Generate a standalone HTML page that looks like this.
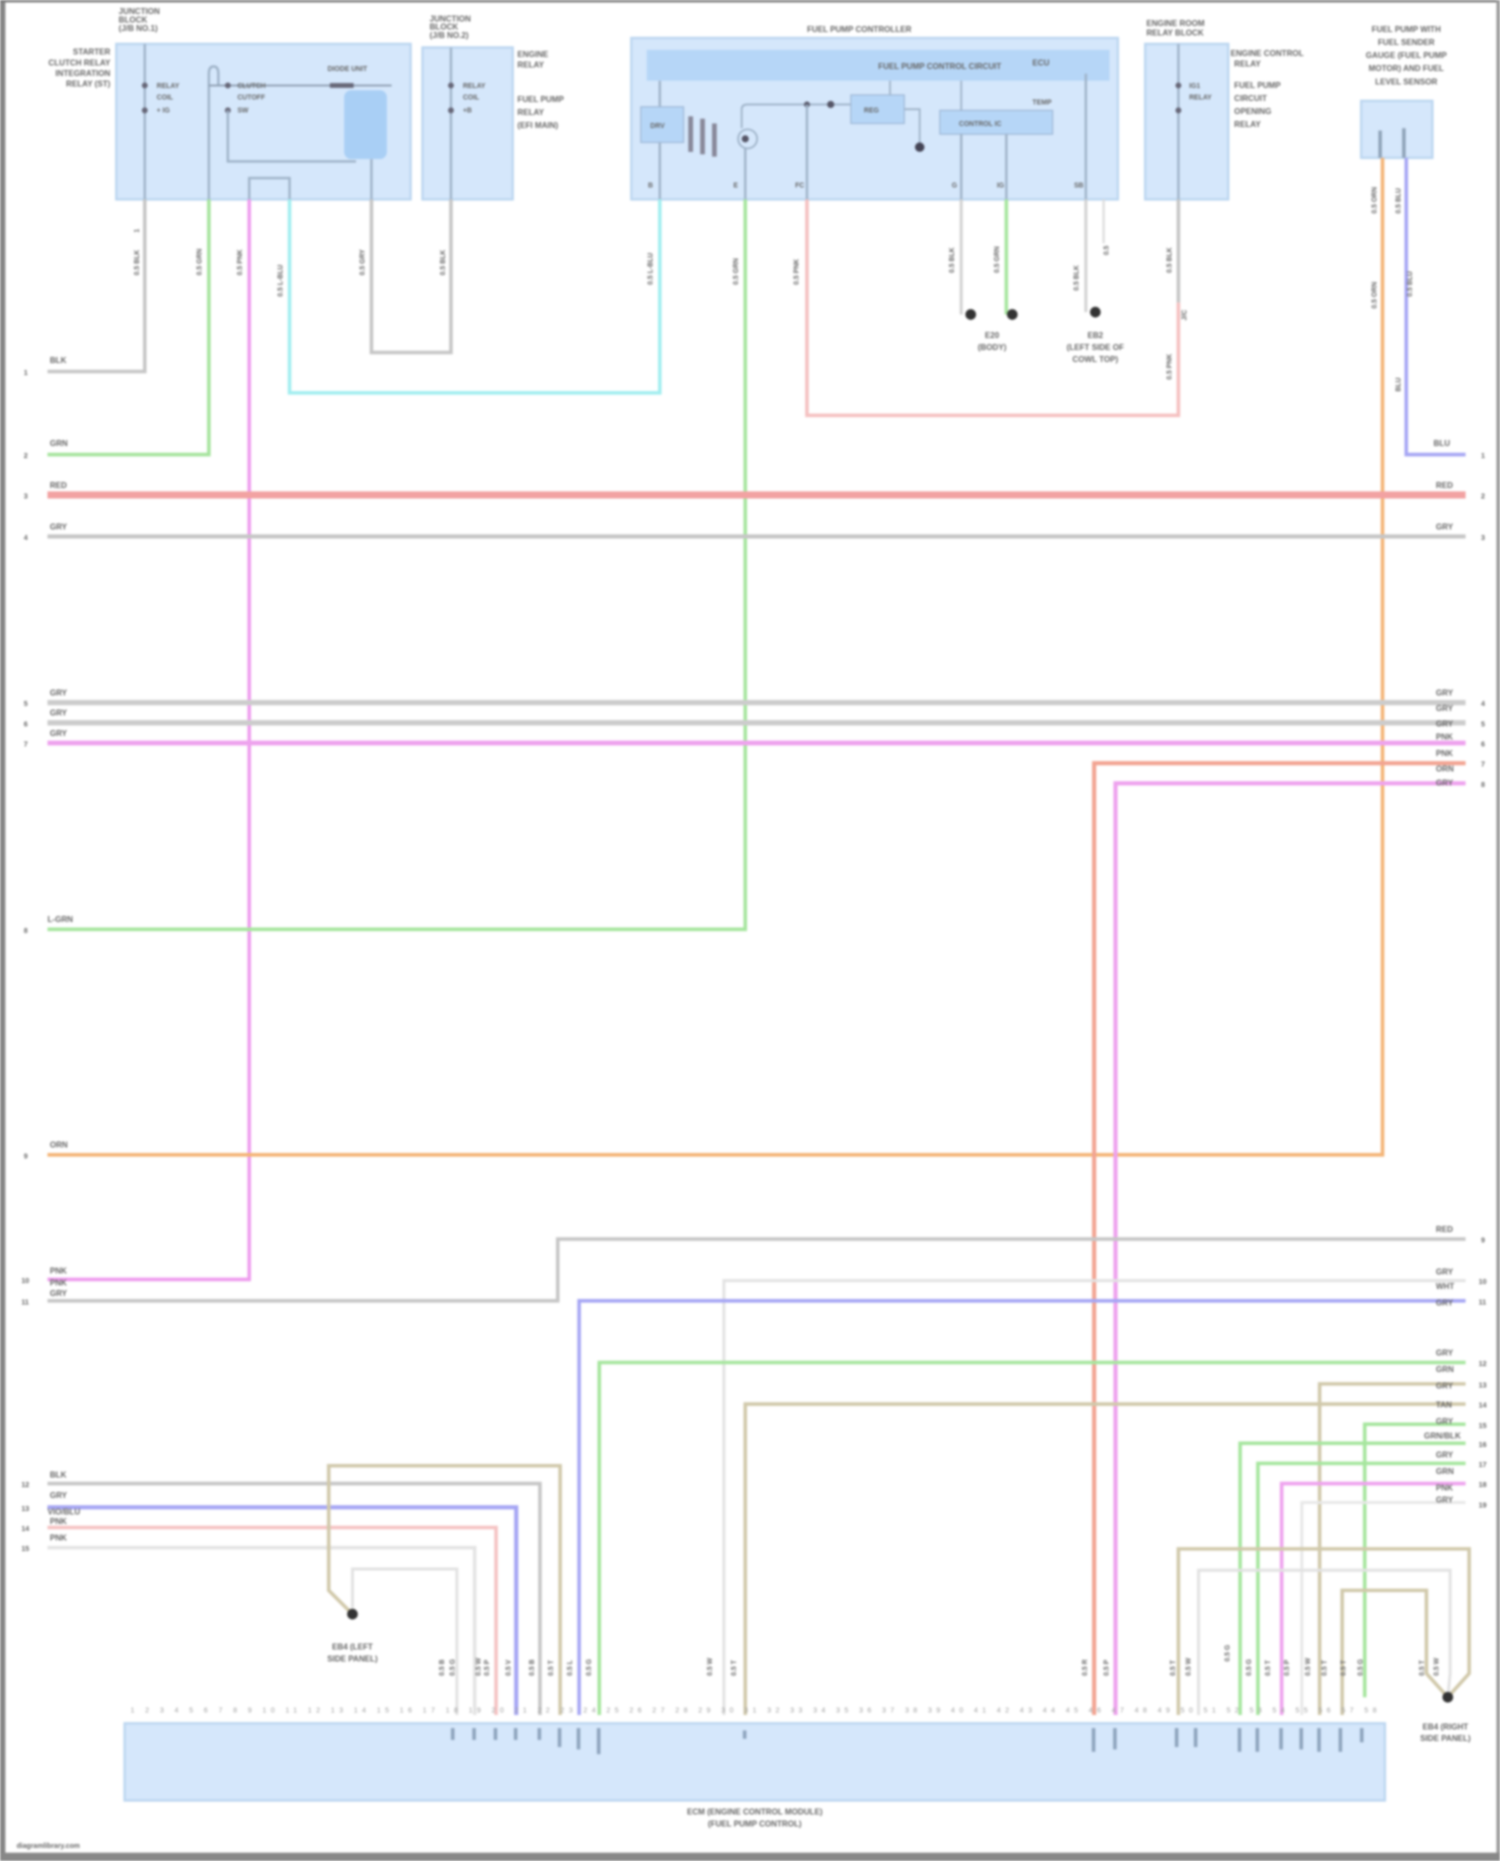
<!DOCTYPE html>
<html><head><meta charset="utf-8"><style>
html,body{margin:0;padding:0;background:#fff;}
svg{display:block;filter:blur(1.1px);}
text{font-family:"Liberation Sans",sans-serif;fill:#666;font-weight:bold;}
.s{font-size:6.8px;}
.t{font-size:5.8px;}
.p{font-size:6px;fill:#a0a0a0;font-weight:normal;}
.w{fill:none;stroke-linejoin:miter;}
</style></head><body>
<svg xmlns="http://www.w3.org/2000/svg" width="1500" height="1861" viewBox="0 0 1264 1568" preserveAspectRatio="none">
<rect x="0" y="0" width="1264" height="1568" fill="#fff"/>
<!-- frame -->
<rect x="0" y="0" width="4.5" height="1568" fill="#858585"/>
<rect x="0" y="0" width="1264" height="2" fill="#777"/>
<rect x="1261" y="0" width="3" height="1568" fill="#999"/>
<rect x="0" y="1561" width="1264" height="7" fill="#888"/>

<!-- ===== Module A ===== -->
<rect x="98" y="37" width="248" height="131" fill="#d5e7fb" stroke="#bcd6f0" stroke-width="2"/>
<line x1="122" y1="37" x2="122" y2="168" stroke="#9fb3c8" stroke-width="2"/>
<circle cx="122" cy="72" r="2.5" fill="#667"/><circle cx="122" cy="93" r="2.5" fill="#667"/>
<text class="t" x="132" y="74">RELAY</text><text class="t" x="132" y="84">COIL</text><text class="t" x="132" y="95">+ IG</text>
<path class="w" d="M176 168 V62 Q176 56 180 56 Q184 56 184 62 V72" stroke="#9fb3c8" stroke-width="2"/>
<line x1="176" y1="72" x2="330" y2="72" stroke="#8a9aad" stroke-width="1.5"/>
<rect x="278" y="70" width="20" height="4" fill="#667"/>
<circle cx="192" cy="72" r="2.5" fill="#667"/><circle cx="192" cy="93" r="2.5" fill="#667"/>
<text class="t" x="200" y="74">CLUTCH</text><text class="t" x="200" y="84">CUTOFF</text><text class="t" x="200" y="95">SW</text>
<text class="t" x="276" y="60">DIODE UNIT</text>
<path class="w" d="M192 93 V136 H300" stroke="#9fb3c8" stroke-width="2"/>
<rect x="290" y="76" width="36" height="58" rx="6" fill="#a9cff5"/>
<line x1="313" y1="134" x2="313" y2="168" stroke="#9fb3c8" stroke-width="2"/>
<path class="w" d="M210 168 V150 H244 V168" stroke="#9fb3c8" stroke-width="2"/>
<text class="s" x="100" y="12">JUNCTION</text><text class="s" x="100" y="19">BLOCK</text><text class="s" x="100" y="26">(J/B NO.1)</text>
<text class="s" x="93" y="46" text-anchor="end">STARTER</text><text class="s" x="93" y="55" text-anchor="end">CLUTCH RELAY</text><text class="s" x="93" y="64" text-anchor="end">INTEGRATION</text><text class="s" x="93" y="73" text-anchor="end">RELAY (ST)</text>

<!-- ===== Module B ===== -->
<rect x="356" y="40" width="76" height="128" fill="#d5e7fb" stroke="#bcd6f0" stroke-width="2"/>
<line x1="380" y1="40" x2="380" y2="168" stroke="#9fb3c8" stroke-width="2"/>
<circle cx="380" cy="72" r="2.5" fill="#667"/><circle cx="380" cy="93" r="2.5" fill="#667"/>
<text class="t" x="390" y="74">RELAY</text><text class="t" x="390" y="84">COIL</text><text class="t" x="390" y="95">+B</text>
<text class="s" x="362" y="18">JUNCTION</text><text class="s" x="362" y="25">BLOCK</text><text class="s" x="362" y="32">(J/B NO.2)</text>
<text class="s" x="436" y="48">ENGINE</text><text class="s" x="436" y="57">RELAY</text><text class="s" x="436" y="86">FUEL PUMP</text><text class="s" x="436" y="97">RELAY</text><text class="s" x="436" y="108">(EFI MAIN)</text>

<!-- ===== Module C ===== -->
<rect x="532" y="32" width="410" height="136" fill="#d5e7fb" stroke="#bcd6f0" stroke-width="2"/>
<rect x="545" y="42" width="390" height="26" fill="#b6d6f7"/>
<text class="s" x="740" y="58">FUEL PUMP CONTROL CIRCUIT</text>
<text class="s" x="870" y="55">ECU</text>
<line x1="556" y1="68" x2="556" y2="168" stroke="#9fb3c8" stroke-width="2"/>
<rect x="540" y="90" width="36" height="30" fill="#b6d6f7" stroke="#9fb8d6"/>
<text class="t" x="548" y="108">DRV</text>
<rect x="580" y="98" width="4" height="30" fill="#889"/><rect x="590" y="100" width="4" height="30" fill="#889"/><rect x="600" y="104" width="4" height="28" fill="#889"/>
<circle cx="630" cy="117" r="8" fill="none" stroke="#9fb3c8" stroke-width="1.5"/>
<circle cx="628" cy="117" r="3" fill="#556"/>
<line x1="628" y1="125" x2="628" y2="168" stroke="#9fb3c8" stroke-width="2"/>
<path class="w" d="M625 108 V92 Q625 88 630 88 H717" stroke="#9fb3c8" stroke-width="1.5"/>
<circle cx="680" cy="88" r="2.5" fill="#556"/><circle cx="700" cy="88" r="3" fill="#556"/>
<line x1="680" y1="88" x2="680" y2="168" stroke="#9fb3c8" stroke-width="2"/>
<rect x="717" y="80" width="45" height="24" fill="#b6d6f7" stroke="#9fb8d6"/>
<text class="t" x="728" y="95">REG</text>
<path class="w" d="M762 92 H775 V122" stroke="#9fb3c8" stroke-width="1.5"/>
<circle cx="775" cy="124" r="4" fill="#445"/>
<rect x="792" y="93" width="95" height="20" fill="#b6d6f7" stroke="#9fb8d6"/>
<text class="t" x="808" y="106">CONTROL IC</text>
<line x1="750" y1="68" x2="750" y2="80" stroke="#9fb3c8" stroke-width="1.5"/>
<line x1="810" y1="68" x2="810" y2="93" stroke="#9fb3c8" stroke-width="1.5"/>
<line x1="810" y1="113" x2="810" y2="168" stroke="#9fb3c8" stroke-width="2"/>
<line x1="848" y1="113" x2="848" y2="168" stroke="#9fb3c8" stroke-width="2"/>
<text class="t" x="870" y="88">TEMP</text>
<line x1="915" y1="62" x2="915" y2="168" stroke="#9fb3c8" stroke-width="2"/>
<text class="t" x="546" y="158">B</text><text class="t" x="618" y="158">E</text><text class="t" x="670" y="158">FC</text><text class="t" x="802" y="158">G</text><text class="t" x="840" y="158">IG</text><text class="t" x="905" y="158">SB</text>
<text class="s" x="680" y="27">FUEL PUMP CONTROLLER</text>

<!-- ===== Module D ===== -->
<rect x="965" y="37" width="70" height="131" fill="#d5e7fb" stroke="#bcd6f0" stroke-width="2"/>
<line x1="993" y1="37" x2="993" y2="168" stroke="#9fb3c8" stroke-width="2"/>
<circle cx="993" cy="72" r="2.5" fill="#667"/><circle cx="993" cy="93" r="2.5" fill="#667"/>
<text class="t" x="1002" y="74">IG1</text><text class="t" x="1002" y="84">RELAY</text>
<text class="s" x="966" y="22">ENGINE ROOM</text><text class="s" x="966" y="30">RELAY BLOCK</text>
<text class="s" x="1037" y="47">ENGINE CONTROL</text><text class="s" x="1040" y="56">RELAY</text><text class="s" x="1040" y="74">FUEL PUMP</text><text class="s" x="1040" y="85">CIRCUIT</text><text class="s" x="1040" y="96">OPENING</text><text class="s" x="1040" y="107">RELAY</text>

<!-- ===== Module E ===== -->
<rect x="1147" y="85" width="60" height="48" fill="#d5e7fb" stroke="#bcd6f0" stroke-width="2"/>
<line x1="1163" y1="110" x2="1163" y2="133" stroke="#8fa3b8" stroke-width="3"/>
<line x1="1183" y1="108" x2="1183" y2="133" stroke="#8fa3b8" stroke-width="3"/>
<text class="s" x="1185" y="27" text-anchor="middle">FUEL PUMP WITH</text><text class="s" x="1185" y="38" text-anchor="middle">FUEL SENDER</text><text class="s" x="1185" y="49" text-anchor="middle">GAUGE (FUEL PUMP</text><text class="s" x="1185" y="60" text-anchor="middle">MOTOR) AND FUEL</text><text class="s" x="1185" y="71" text-anchor="middle">LEVEL SENSOR</text>

<!-- ===== top wires ===== -->
<path class="w" d="M122 168 V313 H40" stroke="#c6c6c6" stroke-width="3"/>
<path class="w" d="M176 168 V383 H40" stroke="#a6e49e" stroke-width="3"/>
<path class="w" d="M210 168 V1078 H40" stroke="#ee9cee" stroke-width="3"/>
<path class="w" d="M244 168 V331 H556 V168" stroke="#a2eef0" stroke-width="3"/>
<path class="w" d="M313 168 V297 H380 V168" stroke="#c6c6c6" stroke-width="3"/>
<path class="w" d="M628 168 V783 H40" stroke="#a6e69e" stroke-width="3"/>
<path class="w" d="M993 168 V255" stroke="#c6c6c6" stroke-width="3"/>
<path class="w" d="M680 168 V350 H993 V255" stroke="#f5c0c0" stroke-width="3"/>
<path class="w" d="M810 168 V265" stroke="#d2d2d2" stroke-width="2.5"/>
<path class="w" d="M848 168 V265" stroke="#a6e69e" stroke-width="3"/>
<path class="w" d="M915 168 V263" stroke="#d2d2d2" stroke-width="2.5"/>
<path class="w" d="M930 168 V205" stroke="#dedede" stroke-width="2"/>
<circle cx="818" cy="265" r="4.5" fill="#333"/><circle cx="853" cy="265" r="4.5" fill="#333"/>
<circle cx="923" cy="263" r="4.5" fill="#333"/>
<text class="s" x="836" y="285" text-anchor="middle">E20</text><text class="s" x="836" y="295" text-anchor="middle">(BODY)</text>
<text class="s" x="923" y="285" text-anchor="middle">EB2</text><text class="s" x="923" y="295" text-anchor="middle">(LEFT SIDE OF</text><text class="s" x="923" y="305" text-anchor="middle">COWL TOP)</text>
<path class="w" d="M1165 133 V973 H40" stroke="#f4b476" stroke-width="3"/>
<path class="w" d="M1185 133 V383 H1235" stroke="#a6a6f4" stroke-width="3"/>

<!-- vertical wire labels under modules -->
<g class="t">
<text transform="translate(117,232) rotate(-90)">0.5 BLK</text>
<text transform="translate(117,196) rotate(-90)">1</text>
<text transform="translate(170,232) rotate(-90)">0.5 GRN</text>
<text transform="translate(204,232) rotate(-90)">0.5 PNK</text>
<text transform="translate(238,250) rotate(-90)">0.5 L-BLU</text>
<text transform="translate(307,232) rotate(-90)">0.5 GRY</text>
<text transform="translate(375,232) rotate(-90)">0.5 BLK</text>
<text transform="translate(550,240) rotate(-90)">0.5 L-BLU</text>
<text transform="translate(622,240) rotate(-90)">0.5 GRN</text>
<text transform="translate(673,240) rotate(-90)">0.5 PNK</text>
<text transform="translate(804,230) rotate(-90)">0.5 BLK</text>
<text transform="translate(842,230) rotate(-90)">0.5 GRN</text>
<text transform="translate(909,245) rotate(-90)">0.5 BLK</text>
<text transform="translate(934,215) rotate(-90)">0.5</text>
<text transform="translate(987,230) rotate(-90)">0.5 BLK</text>
<text transform="translate(987,320) rotate(-90)">0.5 PNK</text>
<text transform="translate(1000,270) rotate(-90)">J/C</text>
<text transform="translate(1160,180) rotate(-90)">0.5 ORN</text>
<text transform="translate(1180,180) rotate(-90)">0.5 BLU</text>
<text transform="translate(1160,260) rotate(-90)">0.5 ORN</text>
<text transform="translate(1190,250) rotate(-90)">0.5 BLU</text>
<text transform="translate(1180,330) rotate(-90)">BLU</text>
</g>

<!-- ===== long horizontals ===== -->
<line x1="40" y1="417" x2="1235" y2="417" stroke="#f2a2a2" stroke-width="6"/>
<line x1="40" y1="452" x2="1235" y2="452" stroke="#c6c6c6" stroke-width="3.5"/>
<line x1="40" y1="592" x2="1235" y2="592" stroke="#cccccc" stroke-width="4.5"/>
<line x1="40" y1="609" x2="1235" y2="609" stroke="#cccccc" stroke-width="4.5"/>
<line x1="40" y1="626" x2="1235" y2="626" stroke="#ee a2ee" stroke-width="4"/>
<line x1="40" y1="626" x2="1235" y2="626" stroke="#eea2ee" stroke-width="4"/>
<path class="w" d="M1235 643 H922 V1445" stroke="#f2a492" stroke-width="3.5"/>
<path class="w" d="M1235 660 H940 V1445" stroke="#eea2ee" stroke-width="3.5"/>

<path class="w" d="M1235 1044 H470 V1096 H40" stroke="#c6c6c6" stroke-width="3"/>
<path class="w" d="M1235 1079 H610 V1445" stroke="#e2e2e2" stroke-width="2.5"/>
<path class="w" d="M1235 1096 H488 V1445" stroke="#a6a6f4" stroke-width="3"/>
<path class="w" d="M1235 1148 H505 V1445" stroke="#a6e69e" stroke-width="3"/>
<path class="w" d="M1235 1166 H1112 V1445" stroke="#d1c9ab" stroke-width="3"/>
<path class="w" d="M1235 1183 H628 V1445" stroke="#d1c9ab" stroke-width="3"/>
<path class="w" d="M1235 1200 H1150 V1430" stroke="#a6e69e" stroke-width="3"/>
<path class="w" d="M1235 1216 H1045 V1445" stroke="#a6e69e" stroke-width="3"/>
<path class="w" d="M1235 1233 H1060 V1445" stroke="#a6e69e" stroke-width="3"/>
<path class="w" d="M1235 1250 H1080 V1445" stroke="#eea2ee" stroke-width="3"/>
<path class="w" d="M1235 1266 H1097 V1445" stroke="#e8e8e8" stroke-width="2.5"/>

<!-- bottom-left group -->
<path class="w" d="M40 1250 H455 V1445" stroke="#c6c6c6" stroke-width="3"/>
<path class="w" d="M40 1270 H435 V1445" stroke="#a6a6f4" stroke-width="3.5"/>
<path class="w" d="M40 1287 H418 V1445" stroke="#f5c2c2" stroke-width="3"/>
<path class="w" d="M40 1304 H400 V1445" stroke="#e4e4e4" stroke-width="3"/>
<path class="w" d="M472 1445 V1235 H277 V1340 L297 1360" stroke="#d1c9ab" stroke-width="3"/>
<path class="w" d="M297 1355 V1322 H385 V1445" stroke="#e2e2e2" stroke-width="2.5"/>
<circle cx="297" cy="1360" r="4.5" fill="#333"/>
<text class="s" x="297" y="1390" text-anchor="middle">EB4 (LEFT</text><text class="s" x="297" y="1400" text-anchor="middle">SIDE PANEL)</text>

<!-- bottom-right loops -->
<path class="w" d="M993 1445 V1305 H1238 V1410 L1220 1430" stroke="#d1c9ab" stroke-width="3"/>
<path class="w" d="M1010 1445 V1323 H1222 V1410 L1220 1430" stroke="#e2e2e2" stroke-width="2.5"/>
<path class="w" d="M1131 1445 V1340 H1202 V1410 L1220 1430" stroke="#d1c9ab" stroke-width="3"/>
<circle cx="1220" cy="1430" r="4.5" fill="#333"/>
<text class="s" x="1218" y="1457" text-anchor="middle">EB4 (RIGHT</text><text class="s" x="1218" y="1467" text-anchor="middle">SIDE PANEL)</text>

<!-- left labels & pins -->
<g class="s">
<text x="42" y="306">BLK</text><text x="42" y="376">GRN</text><text x="42" y="411">RED</text><text x="42" y="446">GRY</text>
<text x="42" y="586">GRY</text><text x="42" y="603">GRY</text><text x="42" y="620">GRY</text>
<text x="40" y="777">L-GRN</text><text x="42" y="967">ORN</text>
<text x="42" y="1073">PNK</text><text x="42" y="1083">PNK</text><text x="42" y="1092">GRY</text>
<text x="42" y="1245">BLK</text><text x="42" y="1262">GRY</text><text x="40" y="1276">VIO/BLU</text><text x="42" y="1284">PNK</text><text x="42" y="1298">PNK</text>
</g>
<g class="p">
<text x="20" y="316">1</text><text x="20" y="386">2</text><text x="20" y="420">3</text><text x="20" y="455">4</text>
<text x="20" y="595">5</text><text x="20" y="612">6</text><text x="20" y="629">7</text><text x="20" y="786">8</text><text x="20" y="976">9</text>
<text x="18" y="1081">10</text><text x="18" y="1099">11</text>
<text x="18" y="1253">12</text><text x="18" y="1273">13</text><text x="18" y="1290">14</text><text x="18" y="1307">15</text>
</g>
<!-- right labels & pins -->
<g class="s">
<text x="1208" y="376">BLU</text><text x="1210" y="411">RED</text><text x="1210" y="446">GRY</text>
<text x="1210" y="586">GRY</text><text x="1210" y="599">GRY</text><text x="1210" y="612">GRY</text><text x="1210" y="623">PNK</text><text x="1210" y="637">PNK</text><text x="1210" y="650">ORN</text><text x="1210" y="662">GRY</text>
<text x="1210" y="1038">RED</text>
<text x="1210" y="1074">GRY</text><text x="1210" y="1086">WHT</text><text x="1210" y="1100">GRY</text>
<text x="1210" y="1142">GRY</text><text x="1210" y="1156">GRN</text><text x="1210" y="1170">GRY</text><text x="1210" y="1186">TAN</text><text x="1210" y="1200">GRY</text><text x="1200" y="1212">GRN/BLK</text><text x="1210" y="1228">GRY</text><text x="1210" y="1242">GRN</text><text x="1210" y="1256">PNK</text><text x="1210" y="1266">GRY</text>
</g>
<g class="p">
<text x="1248" y="386">1</text><text x="1248" y="420">2</text><text x="1248" y="455">3</text>
<text x="1248" y="595">4</text><text x="1248" y="612">5</text><text x="1248" y="629">6</text><text x="1248" y="646">7</text><text x="1248" y="663">8</text>
<text x="1248" y="1047">9</text><text x="1246" y="1082">10</text><text x="1246" y="1099">11</text>
<text x="1246" y="1151">12</text><text x="1246" y="1169">13</text><text x="1246" y="1186">14</text><text x="1246" y="1203">15</text><text x="1246" y="1219">16</text><text x="1246" y="1236">17</text><text x="1246" y="1253">18</text><text x="1246" y="1270">19</text>
</g>

<!-- bottom connector labels (vertical) -->
<g class="t">
<text transform="translate(374,1412) rotate(-90)">0.5 B</text>
<text transform="translate(383,1412) rotate(-90)">0.5 G</text>
<text transform="translate(405,1412) rotate(-90)">0.5 W</text>
<text transform="translate(412,1412) rotate(-90)">0.5 P</text>
<text transform="translate(430,1412) rotate(-90)">0.5 V</text>
<text transform="translate(450,1412) rotate(-90)">0.5 B</text>
<text transform="translate(466,1412) rotate(-90)">0.5 T</text>
<text transform="translate(482,1412) rotate(-90)">0.5 L</text>
<text transform="translate(498,1412) rotate(-90)">0.5 G</text>
<text transform="translate(600,1412) rotate(-90)">0.5 W</text>
<text transform="translate(620,1412) rotate(-90)">0.5 T</text>
<text transform="translate(916,1412) rotate(-90)">0.5 R</text>
<text transform="translate(934,1412) rotate(-90)">0.5 P</text>
<text transform="translate(990,1412) rotate(-90)">0.5 T</text>
<text transform="translate(1003,1412) rotate(-90)">0.5 W</text>
<text transform="translate(1036,1400) rotate(-90)">0.5 G</text>
<text transform="translate(1054,1412) rotate(-90)">0.5 G</text>
<text transform="translate(1070,1412) rotate(-90)">0.5 T</text>
<text transform="translate(1086,1412) rotate(-90)">0.5 P</text>
<text transform="translate(1104,1412) rotate(-90)">0.5 W</text>
<text transform="translate(1118,1412) rotate(-90)">0.5 T</text>
<text transform="translate(1134,1412) rotate(-90)">0.5 T</text>
<text transform="translate(1148,1412) rotate(-90)">0.5 G</text>
<text transform="translate(1200,1412) rotate(-90)">0.5 T</text>
<text transform="translate(1212,1412) rotate(-90)">0.5 W</text>
</g>

<!-- ===== bottom module ===== -->
<rect x="105" y="1452" width="1062" height="65" fill="#d5e7fb" stroke="#bcd6f0" stroke-width="2"/>
<text class="p" x="110" y="1443" textLength="1050" lengthAdjust="spacing">1 2 3 4 5 6 7 8 9 10 11 12 13 14 15 16 17 18 19 20 21 22 23 24 25 26 27 28 29 30 31 32 33 34 35 36 37 38 39 40 41 42 43 44 45 46 47 48 49 50 51 52 53 54 55 56 57 58</text>
<g fill="#8ea4bd">
<rect x="380" y="1456" width="3" height="10"/><rect x="398" y="1456" width="3" height="10"/><rect x="416" y="1456" width="3" height="10"/><rect x="433" y="1456" width="3" height="10"/><rect x="453" y="1456" width="3" height="10"/>
<rect x="470" y="1456" width="3" height="16"/><rect x="486" y="1456" width="3" height="18"/><rect x="503" y="1456" width="3" height="22"/>
<rect x="626" y="1458" width="3" height="7"/>
<rect x="920" y="1456" width="3" height="20"/><rect x="938" y="1456" width="3" height="18"/>
<rect x="990" y="1456" width="3" height="16"/><rect x="1006" y="1456" width="3" height="16"/>
<rect x="1043" y="1456" width="3" height="20"/><rect x="1058" y="1456" width="3" height="20"/><rect x="1078" y="1456" width="3" height="18"/><rect x="1095" y="1456" width="3" height="18"/><rect x="1110" y="1456" width="3" height="20"/><rect x="1128" y="1456" width="3" height="20"/><rect x="1146" y="1456" width="3" height="12"/>
</g>
<text class="s" x="636" y="1529" text-anchor="middle">ECM (ENGINE CONTROL MODULE)</text>
<text class="s" x="636" y="1539" text-anchor="middle">(FUEL PUMP CONTROL)</text>
<text class="t" x="14" y="1557">diagramlibrary.com</text>
</svg>
</body></html>
